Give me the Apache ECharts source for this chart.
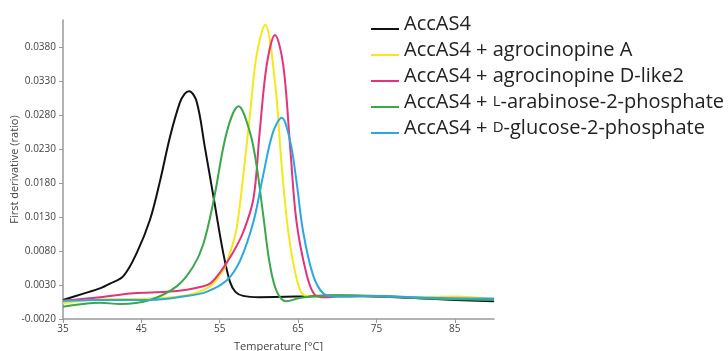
<!DOCTYPE html>
<html>
<head>
<meta charset="utf-8">
<script src="https://cdn.jsdelivr.net/npm/echarts@6/dist/echarts.min.js"></script>
<style>
  html, body { margin: 0; padding: 0; background: #fff; }
  #chart { width: 728px; height: 351px; }
</style>
</head>
<body>
<div id="chart"></div>
<script>
// temperatures (°C) and first derivative readings for each sample
var names = ['AccAS4', 'AccAS4 + agrocinopine A', 'AccAS4 + agrocinopine D-like2',
  'AccAS4 + L-arabinose-2-phosphate', 'AccAS4 + D-glucose-2-phosphate'];
var colors = ['#111111', '#f4e81a', '#e5337a', '#3aa849', '#2aa9e0'];

var blackT = [35, 37.5, 39.7, 41, 42.7, 44.4, 46.1, 47.4, 48.65, 49.9, 50.5, 51.1, 52.05, 53.1, 54.2, 55.45, 56.3, 57.0, 58.0, 60, 65, 70, 75, 80, 85, 90];
var blackV = [0.0008, 0.0017, 0.0025, 0.0032, 0.0043, 0.0077, 0.0126, 0.0184, 0.0248, 0.0298, 0.0311, 0.0315, 0.0300, 0.0233, 0.0160, 0.0077, 0.0035, 0.0020, 0.0014, 0.0012, 0.0013, 0.0015, 0.0013, 0.0011, 0.0008, 0.0006];

var yellowT = [35, 39.7, 46.1, 50.8, 53.75, 55.45, 56.3, 57.15, 58.0, 58.85, 59.7, 60.8, 62.05, 62.9, 63.75, 64.8, 65.65, 67, 70, 75, 80, 85, 90];
var yellowV = [0.0003, 0.0009, 0.0010, 0.0015, 0.0028, 0.0052, 0.0077, 0.0113, 0.0191, 0.0280, 0.0368, 0.0413, 0.0329, 0.0206, 0.0108, 0.0040, 0.0016, 0.0013, 0.0015, 0.0014, 0.0012, 0.0013, 0.0009];

var pinkT = [35, 39.7, 44, 48.2, 50.8, 52.5, 53.75, 55, 56.7, 58.0, 59.3, 60.1, 61.0, 62.05, 63.1, 64.0, 64.8, 66.1, 67.1, 68.5, 70, 75, 80, 85, 90];
var pinkV = [0.0007, 0.0012, 0.0018, 0.0020, 0.0023, 0.0027, 0.0032, 0.0048, 0.0078, 0.0108, 0.0157, 0.0255, 0.0354, 0.0398, 0.0354, 0.0231, 0.0123, 0.0045, 0.0016, 0.0012, 0.0013, 0.0014, 0.0011, 0.0010, 0.0008];

var greenT = [35, 37.5, 39.7, 42.3, 46.1, 49.5, 51.6, 52.9, 54.2, 55.9, 57.4, 58.85, 59.7, 60.55, 61.4, 62.3, 63.5, 65.2, 67, 70, 75, 80, 85, 90];
var greenV = [-0.0002, 0.0002, 0.0004, 0.0002, 0.0008, 0.0028, 0.0057, 0.0090, 0.0153, 0.0255, 0.0293, 0.0255, 0.0206, 0.0133, 0.0060, 0.0020, 0.0006, 0.0011, 0.0013, 0.0015, 0.0014, 0.0011, 0.0009, 0.0008];

var cyanT = [35, 39.7, 46.1, 50.3, 53.3, 55.9, 57.6, 59.3, 60.55, 61.8, 62.9, 64.0, 64.8, 65.65, 66.9, 68.2, 70, 75, 80, 85, 90];
var cyanV = [0.0007, 0.0008, 0.0008, 0.0013, 0.0020, 0.0037, 0.0066, 0.0123, 0.0192, 0.0255, 0.0276, 0.0241, 0.0182, 0.0108, 0.0045, 0.0018, 0.0013, 0.0014, 0.0012, 0.0010, 0.0010];

var temps = [blackT, yellowT, pinkT, greenT, cyanT];
var values = [blackV, yellowV, pinkV, greenV, cyanV];

var yTicks = [-0.002, 0.003, 0.008, 0.013, 0.018, 0.023, 0.028, 0.033, 0.038];
var xTicks = [35, 45, 55, 65, 75, 85];

function pairs(ts, vs) {
  var out = [];
  for (var i = 0; i < ts.length; i++) out.push([ts[i], vs[i]]);
  return out;
}

var series = [];
for (var i = 0; i < names.length; i++) {
  series.push({
    name: names[i],
    type: 'line',
    smooth: 0.35,
    symbol: 'none',
    lineStyle: { color: colors[i], width: 2 },
    itemStyle: { color: colors[i] },
    data: pairs(temps[i], values[i])
  });
}

var myChart = echarts.init(document.getElementById('chart'));
var option = {
  animation: false,
  backgroundColor: '#fff',
  textStyle: { fontFamily: 'Open Sans' },
  grid: { left: 63, right: 234, top: 20, bottom: 32, outerBoundsMode: 'none', containLabel: false },
  legend: {
    orient: 'vertical',
    left: 366,
    top: 9,
    itemWidth: 28,
    itemHeight: 14,
    itemGap: 6,
    icon: 'path://M0,0 M0,10 L28,10 L28,12 L0,12 Z',
    data: names,
    formatter: function(name) {
      return name.replace('+ L-', '+ {sc|L}-').replace('+ D-', '+ {sc|D}-');
    },
    textStyle: {
      fontSize: 20,
      color: '#222',
      fontFamily: 'Open Sans',
      rich: {
        sc: { fontSize: 15, color: '#222', fontFamily: 'Open Sans' }
      }
    }
  },
  xAxis: {
    type: 'value',
    min: 35,
    max: 90,
    interval: 10,
    name: 'Temperature [°C]',
    nameLocation: 'middle',
    nameGap: 22,
    nameTextStyle: { fontSize: 11, color: '#444' },
    splitLine: { show: false },
    axisLine: { onZero: false, lineStyle: { color: '#999', width: 1.5 } },
    axisTick: { show: true, length: 4, customValues: xTicks, lineStyle: { color: '#999' } },
    axisLabel: { customValues: xTicks, fontSize: 10, color: '#444', margin: 5 }
  },
  yAxis: {
    type: 'value',
    min: -0.002,
    max: 0.042,
    interval: 0.005,
    name: 'First derivative (ratio)',
    nameLocation: 'middle',
    nameGap: 43,
    nameMoveOverlap: false,
    nameTextStyle: { fontSize: 11, color: '#444' },
    splitLine: { show: false },
    axisLine: { show: true, lineStyle: { color: '#999', width: 1.5 } },
    axisTick: { show: true, length: 4, customValues: yTicks, lineStyle: { color: '#999' } },
    axisLabel: {
      customValues: yTicks,
      fontSize: 10,
      color: '#444',
      margin: 7,
      formatter: function(v) { return v.toFixed(4); }
    }
  },
  series: series
};
myChart.setOption(option);
</script>
</body>
</html>
